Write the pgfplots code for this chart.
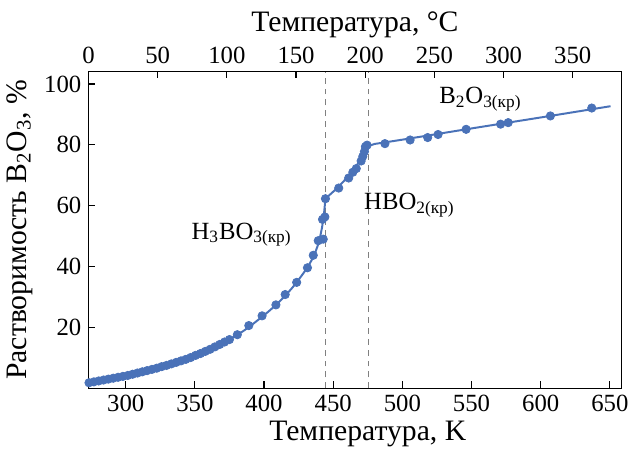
\documentclass[border=0pt]{standalone}
\usepackage{fontspec}
\setmainfont{Liberation Serif}
\usepackage{pgfplots}
\pgfplotsset{compat=1.18}

\definecolor{dotblue}{HTML}{4A72B8}

\begin{document}
\begin{tikzpicture}
\pgfplotsset{
  every axis/.append style={
    scale only axis, width=269.5pt, height=160.25pt,
    ymin=0, ymax=104.2,
    font=\fontsize{12.5}{14}\selectfont,
    /pgf/number format/assume math mode=true,
    tick align=inside, major tick length=3.5pt,
    tick style={black, line width=0.6pt},
    axis line style={line width=0.7pt},
    label style={font=\fontsize{15}{17}\selectfont},
  }
}
\begin{axis}[
  xmin=273, xmax=658.4,
  xtick={300,350,...,650}, ytick={20,40,...,100},
  xtick pos=bottom, ytick pos=left,
  xlabel={Температура, K},
  xlabel style={xshift=6.5pt, yshift=2pt},
  ylabel={Растворимость B\textsubscript{2}O\textsubscript{3}, \%},
  ylabel style={yshift=-1pt},
  clip=false,
]
\coordinate (O) at (rel axis cs:0,0);

% vertical phase boundaries
\draw[gray, dash pattern=on 3pt off 2.5pt, line width=0.6pt] (axis cs:444.2,0) -- (axis cs:444.2,104.2);
\draw[gray, dash pattern=on 3pt off 2.5pt, line width=0.6pt] (axis cs:475.6,0) -- (axis cs:475.6,104.2);

% fitted line, H3BO3 branch
\addplot[dotblue, line width=1pt, smooth] coordinates {
  (273,1.6) (290,3.1) (310,5.1) (330,7.6) (350,10.6) (370,14.8)
  (385,18.8) (400,24.0) (410,28.0) (420,32.8) (430,38.8) (436,43.5) (440,48.5)
};
\addplot[dotblue, line width=1pt] coordinates {
  (440,48.5) (442,53) (443.5,58) (444.4,62.3)
  (450,64.6) (455,66.8) (460,69.2) (465,72.0) (470,75.2) (474.5,79.5)
  (480,80.3) (500,81.7) (550,85.4) (600,89.0) (650.5,92.7)
};

% measured solubility
\addplot[only marks, mark=*, mark size=2.1pt, dotblue] coordinates {
  (273.5,1.8) (277,2.1) (280.5,2.4) (284,2.7) (287.5,3.0) (291,3.3)
  (294.5,3.6) (298,3.9) (301.5,4.2) (305,4.6) (308.5,5.0) (312,5.4)
  (315.5,5.8) (319,6.2) (322.5,6.6) (326,7.1) (329.5,7.5) (333,8.0)
  (336.5,8.5) (340,9.0) (343.5,9.5) (347,10.1) (350.5,10.8) (354,11.4)
  (357.5,12.1) (361,12.8) (364.5,13.6) (368,14.4) (371.5,15.2) (375,16.0)
  (380.7,17.6) (389,20.6) (398.6,23.8) (408.6,27.4) (415.3,30.8)
  (423.6,34.8) (431.4,39.6) (435.6,43.7) (439.2,48.5) (442.8,49.0)
  (442.3,55.5) (444,56.3) (444.4,62.3)
  (454,65.8) (461.2,69.1) (464.2,71.0) (466.7,72.2) (470.2,74.7)
  (471.4,76.2) (472.6,77.8) (473.3,79.4) (474.5,79.9)
  (487.4,80.4) (505.6,81.6) (518.3,82.4) (525.8,83.4) (546.1,85.1)
  (571,86.8) (576.5,87.3) (607,89.5) (636.9,92.1)
};

\node[anchor=base west, inner sep=0pt] at (axis cs:347.3,49.0) {H\textsubscript{3}BO\textsubscript{3(кр)}};
\node[anchor=base west, inner sep=0pt] at (axis cs:472.1,58.8) {HBO\textsubscript{2(кр)}};
\node[anchor=base west, inner sep=0pt] at (axis cs:526.4,93.5) {B\textsubscript{2}O\textsubscript{3(кр)}};
\end{axis}

% top axis in degrees Celsius
\begin{axis}[
  xmin=-0.15, xmax=385.25,
  axis x line*=top, axis y line=none,
  xtick={0,50,...,350},
  xlabel={Температура, °C},
  xlabel style={yshift=-2pt},
]
\end{axis}

\path[use as bounding box] ([shift={(-43.5pt,-30.75pt)}]O) rectangle ([shift={(274pt,196.25pt)}]O);
\end{tikzpicture}
\end{document}
